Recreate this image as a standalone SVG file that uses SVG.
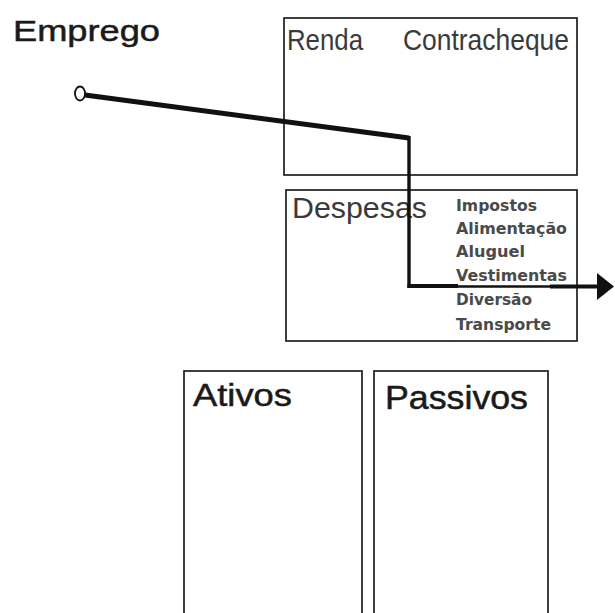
<svg xmlns="http://www.w3.org/2000/svg" width="615" height="613" viewBox="0 0 615 613">
<style>
.box{fill:#fff;stroke:#1e1e1e;stroke-width:1.7}
.big{font-family:"Liberation Sans",Arial,sans-serif;fill:#1a1a1a;stroke:#1a1a1a;stroke-width:0.5}
.mid{font-family:"Liberation Sans",Arial,sans-serif;fill:#3a3a3a}
.item{font-family:"DejaVu Sans",Verdana,sans-serif;font-weight:bold;font-size:15.5px;fill:#4a4a4a}
.conn{fill:none;stroke:#111;stroke-linejoin:miter}
</style>
<rect width="615" height="613" fill="#fff"/>
<g id="emprego">
<text class="big" x="13" y="41" font-size="30" textLength="147" lengthAdjust="spacingAndGlyphs">Emprego</text>
</g>
<g id="renda">
<rect class="box" x="284" y="18" width="293" height="157"/>
<text class="mid" x="287" y="50" font-size="30" textLength="76" lengthAdjust="spacingAndGlyphs">Renda</text>
<text class="mid" x="403" y="50" font-size="30" textLength="166" lengthAdjust="spacingAndGlyphs">Contracheque</text>
</g>
<g id="despesas">
<rect class="box" x="286" y="190" width="291" height="151"/>
<text class="mid" x="292" y="218" font-size="30" textLength="135" lengthAdjust="spacingAndGlyphs">Despesas</text>
<text class="item" x="456" y="211" textLength="81" lengthAdjust="spacingAndGlyphs">Impostos</text>
<text class="item" x="456" y="234" textLength="111" lengthAdjust="spacingAndGlyphs">Alimentação</text>
<text class="item" x="456" y="257" textLength="69" lengthAdjust="spacingAndGlyphs">Aluguel</text>
<text class="item" x="456" y="281" textLength="111" lengthAdjust="spacingAndGlyphs">Vestimentas</text>
<text class="item" x="456" y="305" textLength="76" lengthAdjust="spacingAndGlyphs">Diversão</text>
<text class="item" x="456" y="330" textLength="95" lengthAdjust="spacingAndGlyphs">Transporte</text>
</g>
<g id="ativos">
<rect class="box" x="184" y="371" width="178" height="250"/>
<text class="big" x="193" y="406" font-size="32" textLength="99" lengthAdjust="spacingAndGlyphs">Ativos</text>
</g>
<g id="passivos">
<rect class="box" x="374" y="371" width="174" height="250"/>
<text class="big" x="385" y="409" font-size="33" textLength="143" lengthAdjust="spacingAndGlyphs">Passivos</text>
</g>
<g id="connectors">
<ellipse cx="80" cy="93.5" rx="5" ry="7" fill="#fff" stroke="#111" stroke-width="1.8"/>
<path class="conn" d="M85 95 L409 138" stroke-width="5"/>
<path class="conn" d="M409 136 L409 288" stroke-width="3.4"/>
<path class="conn" d="M407.5 286 L458 286 M550 286.5 L600 286.5" stroke-width="4.2"/>
<path class="conn" d="M458 286.5 L550 286.5" stroke-width="2.6"/>
<polygon points="597,273 614,286.5 597,300" fill="#111"/>
</g>
</svg>
